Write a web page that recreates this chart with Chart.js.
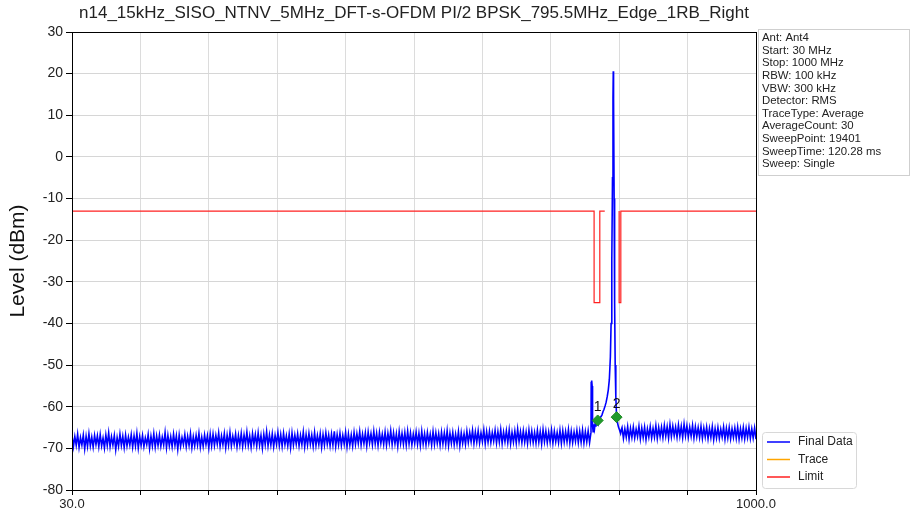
<!DOCTYPE html>
<html>
<head>
<meta charset="utf-8">
<script src="https://cdn.jsdelivr.net/npm/chart.js@4/dist/chart.umd.min.js"></script>
<style>
  html, body { margin: 0; padding: 0; background: #fff; }
  #wrap { width: 912px; height: 519px; }
</style>
</head>
<body>
<div id="wrap"><canvas id="c" width="912" height="519"></canvas></div>
<script>
// ----------------------
// DATA
// ----------------------
const titleText = "n14_15kHz_SISO_NTNV_5MHz_DFT-s-OFDM PI/2 BPSK_795.5MHz_Edge_1RB_Right";
const infoLines = [
    "Ant: Ant4", "Start: 30 MHz", "Stop: 1000 MHz", "RBW: 100 kHz", "VBW: 300 kHz",
    "Detector: RMS", "TraceType: Average", "AverageCount: 30", "SweepPoint: 19401",
    "SweepTime: 120.28 ms", "Sweep: Single"
];

// noise floor left of the carrier, one value every 2 MHz from 30 MHz
const leftStartMHz = 30;
const rightStartMHz = 810;
const floorStepMHz = 2;
const leftFloorLevels = [
    -66.9,-69.6,-67.2,-69.3,-66.6,-69.8,-67.4,-69.2,-66.8,-70.1,-67.1,-69.5,-66.5,-69.4,-67.3,-69.7,-66.9,-69.1,-67.0,-69.6,
    -66.7,-69.4,-67.5,-69.9,-66.8,-69.3,-66.3,-69.6,-67.2,-69.2,-66.9,-70.3,-67.4,-69.5,-66.6,-69.3,-67.1,-69.8,-66.8,-69.4,
    -67.3,-69.2,-66.7,-69.7,-67.0,-69.4,-66.4,-69.9,-67.2,-69.3,-66.9,-69.6,-67.5,-69.1,-66.7,-70.0,-67.1,-69.4,-66.5,-69.7,
    -67.0,-69.3,-66.8,-69.5,-67.3,-69.2,-66.2,-69.8,-66.9,-69.4,-67.2,-69.6,-66.6,-69.3,-67.0,-70.2,-66.8,-69.5,-67.4,-69.1,
    -66.7,-69.6,-67.1,-69.3,-66.5,-69.8,-67.2,-69.4,-66.9,-69.2,-66.4,-69.7,-67.3,-69.5,-66.8,-69.1,-67.0,-69.9,-66.6,-69.4,
    -66.6,-69.3,-66.9,-69.0,-66.3,-69.5,-67.0,-69.1,-66.5,-69.8,-66.8,-69.2,-66.2,-69.4,-67.1,-69.0,-66.6,-69.6,-66.9,-69.2,
    -66.4,-69.5,-66.8,-69.1,-66.1,-69.3,-67.0,-69.7,-66.5,-69.0,-66.7,-69.4,-66.3,-69.2,-66.9,-69.9,-66.6,-69.1,-66.0,-69.4,
    -66.8,-69.2,-66.5,-69.6,-66.9,-69.0,-66.2,-69.3,-66.7,-69.5,-66.4,-69.1,-67.0,-69.4,-66.6,-69.8,-66.3,-69.2,-66.8,-69.0,
    -66.5,-69.4,-66.9,-69.1,-66.1,-69.6,-66.7,-69.2,-66.4,-69.0,-66.8,-69.5,-66.2,-69.3,-66.9,-69.1,-66.5,-69.7,-66.7,-69.2,
    -66.3,-69.0,-66.8,-69.4,-66.6,-69.2,-65.9,-69.5,-66.7,-69.1,-66.4,-69.3,-66.9,-69.0,-66.2,-69.6,-66.6,-69.2,-66.8,-69.4,
    -66.2,-69.0,-66.5,-68.8,-66.0,-69.2,-66.6,-68.9,-66.3,-69.4,-66.1,-68.7,-66.5,-69.1,-65.9,-68.9,-66.4,-69.3,-66.2,-68.8,
    -66.6,-69.0,-66.1,-69.2,-66.4,-68.7,-65.8,-69.1,-66.3,-68.9,-66.5,-69.5,-66.0,-68.8,-66.4,-69.0,-66.2,-69.2,-65.9,-68.9,
    -66.3,-69.1,-66.6,-68.8,-66.1,-69.0,-66.4,-69.3,-65.9,-68.9,-66.5,-69.1,-66.2,-68.7,-66.6,-69.2,-66.0,-69.0,-66.3,-68.8,
    -66.5,-69.2,-66.1,-68.9,-66.3,-69.0,-65.8,-69.3,-66.4,-68.8,-66.2,-69.1,-66.6,-68.9,-66.0,-69.4,-66.3,-68.8,-66.5,-69.0,
    -65.9,-68.6,-66.2,-68.4,-65.7,-68.8,-66.1,-68.5,-65.8,-68.7,-66.3,-68.4,-65.6,-68.9,-66.0,-68.5,-65.9,-68.6,-66.2,-68.3,
    -65.7,-68.7,-66.0,-68.5,-65.5,-68.8,-66.1,-68.4,-65.8,-68.6,-65.6,-68.9,-66.2,-68.5,-65.9,-68.7,-65.4,-68.4,-66.0,-68.6,
    -65.8,-68.5,-66.1,-68.8,-65.6,-68.4,-65.9,-68.6,-66.2,-68.7,-65.7,-68.5,-66.0,-68.9,-65.5,-68.4,-65.9,-68.6,-66.1,-68.5,
    -65.6,-68.7,-65.9,-68.4,-66.2,-68.6,-65.7,-68.8,-65.8,-68.5,-66.0,-68.4,-65.5,-68.7,-65.9,-68.6,-66.1,-68.3,-65.7,-68.6,
    -65.9,-68.5,-65.6,-68.7,-66.0,-68.4,-65.8,-68.6,-66.1
];

// spur + carrier region, read point by point
const peakFreqs = [
    766.3, 767.0, 767.6, 768.2, 769.0, 770.0, 771.0, 772.0, 773.0, 774.0, 775.5, 776.5, 777.5,
    778.5, 780.0, 781.5, 783.0, 784.5, 786.0, 787.5, 789.0, 790.5, 792.0, 793.5, 794.5, 795.5, 796.5,
    797.2, 797.6, 798.0, 798.8, 799.5, 800.3, 801.2, 802.3, 803.5, 805.0, 806.5, 808.0, 809.0
];
const peakLevels = [
    -54.2, -53.7, -55.0, -64.5, -66.0, -64.2, -65.3, -63.9, -64.8, -63.5, -63.3, -64.0, -63.1,
    -63.0, -62.4, -62.0, -61.2, -60.6, -59.8, -58.9, -57.6, -56.0, -53.5, -48.0, -40.0, -25.0, -5.0,
    14.0, 20.6, 14.0, -10.0, -35.0, -50.0, -57.5, -62.5, -63.8, -64.9, -65.6, -66.4, -65.5
];

// noise floor right of the carrier, every 2 MHz from 810 MHz
const rightFloorLevels = [
    -65.0,-67.6,-65.3,-67.3,-64.8,-67.8,-65.2,-67.4,-64.9,-67.5,-65.4,-67.2,-64.7,-67.7,-65.1,-67.4,-64.9,-67.9,-65.3,-67.3,
    -64.8,-67.5,-65.2,-67.3,-64.6,-67.6,-65.0,-67.2,-64.9,-67.4,-64.5,-67.1,-64.8,-67.5,-64.3,-67.2,-64.7,-67.0,-64.9,-67.3,
    -64.4,-67.1,-64.7,-67.4,-64.2,-67.0,-64.6,-67.3,-64.9,-67.1,-64.5,-67.5,-64.8,-67.2,-65.0,-67.4,-64.7,-67.6,-65.1,-67.3,
    -64.9,-67.7,-65.2,-67.4,-64.8,-67.9,-65.3,-67.5,-65.0,-67.6,-65.4,-67.3,-64.9,-67.8,-65.2,-67.5,-65.0,-67.7,-65.3,-67.4,
    -65.1,-67.6,-64.9,-67.8,-65.3,-67.5,-65.0,-67.7,-65.2,-67.4,-64.9,-67.6,-65.3,-67.5,-65.1,-67.8
];

// limit line (null = gap over the channel)
const limitFreqs = [30, 770.4, 770.4, 778.5, 778.5, 785.5, 785.6, 805.9, 805.9, 808.3, 808.3, 1000];
const limitLevels = [-13, -13, -35, -35, -13, -13, null, -13, -35, -35, -13, -13];

// markers
const markerFreqs = [775.5, 802.3];
const markerLevels = [-63.3, -62.5];
const markerLabels = ["1", "2"];

// axes
const xTickValues = [30, 127, 224, 321, 418, 515, 612, 709, 806, 903, 1000];
const xLabelled = [30, 1000];
const yMin = -80, yMax = 30, yStep = 10;

// ----------------------
// BUILD POINTS
// ----------------------
const finalData = []
    .concat(leftFloorLevels.map((v, i) => ({ x: leftStartMHz + i * floorStepMHz, y: v })))
    .concat(peakFreqs.map((f, i) => ({ x: f, y: peakLevels[i] })))
    .concat(rightFloorLevels.map((v, i) => ({ x: rightStartMHz + i * floorStepMHz, y: v })));
const limitData = limitFreqs.map((f, i) => ({ x: f, y: limitLevels[i] }));
const markerData = markerFreqs.map((f, i) => ({ x: f, y: markerLevels[i] }));

const FONT = '"Liberation Sans", Arial, sans-serif';

// ----------------------
// OVERLAY (title, info box, legend, marker labels, frame)
// ----------------------
const overlay = {
    id: "overlay",
    afterDraw(chart) {
        const ctx = chart.ctx, a = chart.chartArea;
        ctx.save();

        // frame
        ctx.strokeStyle = "#000";
        ctx.lineWidth = 1;
        ctx.strokeRect(a.left + 0.5, a.top + 0.5, a.right - a.left, a.bottom - a.top);

        // title
        ctx.fillStyle = "#222";
        ctx.font = "17px " + FONT;
        ctx.textAlign = "center";
        ctx.textBaseline = "middle";
        ctx.fillText(titleText, (a.left + a.right) / 2, 13);

        // info box
        ctx.strokeStyle = "#cfcfcf";
        ctx.strokeRect(758.5, 29.5, 151, 146);
        ctx.fillStyle = "#222";
        ctx.font = "11.4px " + FONT;
        ctx.textAlign = "left";
        infoLines.forEach((t, i) => ctx.fillText(t, 762, 38 + i * 12.6));

        // marker labels
        const meta = chart.getDatasetMeta(3);
        ctx.fillStyle = "#111";
        ctx.font = "14px " + FONT;
        ctx.textAlign = "center";
        meta.data.forEach((pt, i) => ctx.fillText(markerLabels[i], pt.x, pt.y - 13));

        // legend
        ctx.fillStyle = "rgba(255,255,255,0.85)";
        ctx.strokeStyle = "#d8d8d8";
        ctx.lineWidth = 1;
        ctx.beginPath();
        ctx.roundRect(762.5, 432.5, 94, 56, 3);
        ctx.fill();
        ctx.stroke();
        ctx.font = "12px " + FONT;
        ctx.textAlign = "left";
        [0, 1, 2].forEach((di, i) => {
            const ds = chart.data.datasets[di];
            const y = 442 + i * 17.5;
            ctx.strokeStyle = ds.borderColor;
            ctx.lineWidth = 1.5;
            ctx.beginPath();
            ctx.moveTo(767, y);
            ctx.lineTo(790, y);
            ctx.stroke();
            ctx.fillStyle = "#222";
            ctx.fillText(ds.label, 798, y);
        });

        ctx.restore();
    }
};

// ----------------------
// CHART
// ----------------------
new Chart(document.getElementById("c"), {
    type: "line",
    data: {
        datasets: [
            {
                label: "Final Data",
                data: finalData,
                borderColor: "#0000ff",
                borderWidth: 1.6,
                pointRadius: 0,
                tension: 0,
                order: 1
            },
            {
                label: "Trace",
                data: [],
                borderColor: "#ffa500",
                borderWidth: 1,
                pointRadius: 0,
                order: 3
            },
            {
                label: "Limit",
                data: limitData,
                borderColor: "#ff2020",
                borderWidth: 1.2,
                pointRadius: 0,
                spanGaps: false,
                order: 2
            },
            {
                label: "Markers",
                data: markerData,
                showLine: false,
                pointStyle: "rectRot",
                pointRadius: 5.5,
                backgroundColor: "#1f9a2a",
                borderColor: "#1f8a25",
                borderWidth: 1,
                order: 0
            }
        ]
    },
    options: {
        responsive: false,
        animation: false,
        events: [],
        layout: { padding: { top: 32, right: 156, left: 0, bottom: 0 } },
        plugins: {
            legend: { display: false },
            title: { display: false },
            tooltip: { enabled: false }
        },
        scales: {
            x: {
                type: "linear",
                min: 30,
                max: 1000,
                afterFit: (s) => { s.height = 29; },
                afterBuildTicks: (s) => { s.ticks = xTickValues.map(v => ({ value: v })); },
                ticks: {
                    autoSkip: false,
                    maxRotation: 0,
                    padding: 2,
                    color: "#222",
                    font: { size: 13, family: FONT },
                    callback: (v) => xLabelled.includes(v) ? v.toFixed(1) : ""
                },
                grid: { color: "#dcdcdc", lineWidth: 1, tickLength: 5, tickColor: "#000" },
                border: { display: false }
            },
            y: {
                min: yMin,
                max: yMax,
                afterFit: (s) => { s.width = 72; },
                ticks: {
                    stepSize: yStep,
                    padding: 3,
                    color: "#222",
                    font: { size: 14, family: FONT }
                },
                grid: { color: "#d6d6d6", lineWidth: 1, tickLength: 6, tickColor: "#000" },
                border: { display: false },
                title: {
                    display: true,
                    text: "Level (dBm)",
                    color: "#111",
                    font: { size: 21, family: FONT },
                    padding: { top: 6, bottom: 0 }
                }
            }
        }
    },
    plugins: [overlay]
});
</script>
</body>
</html>
